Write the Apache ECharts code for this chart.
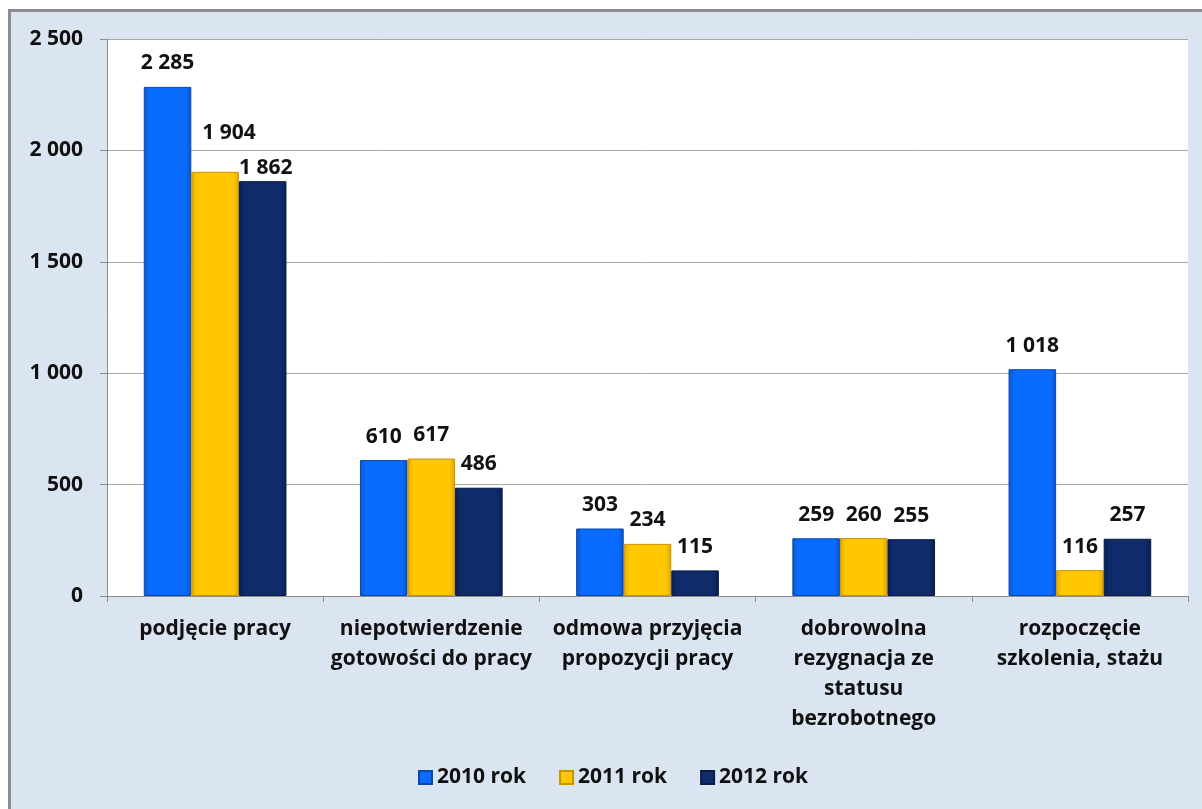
<!DOCTYPE html>
<html>
<head>
<meta charset="utf-8">
<script src="https://cdn.jsdelivr.net/npm/echarts@6/dist/echarts.min.js"></script>
<style>
  html, body { margin: 0; padding: 0; background: #fff; }
  #frame {
    position: absolute; left: 8px; top: 9px; width: 1200px; height: 806px;
    background: #dbe5f1; border-left: 3px solid #8c8c8c; border-top: 3px solid #8c8c8c;
  }
  #chart { position: absolute; left: 0; top: 0; width: 1202px; height: 809px; }
</style>
</head>
<body>
<div id="frame"></div>
<div id="chart"></div>
<script>
// kategorie i wartości
const categories = [
  'podjęcie pracy',
  'niepotwierdzenie\ngotowości do pracy',
  'odmowa przyjęcia\npropozycji pracy',
  'dobrowolna\nrezygnacja ze\nstatusu\nbezrobotnego',
  'rozpoczęcie\nszkolenia, stażu'
];
const seriesNames = ['2010 rok', '2011 rok', '2012 rok'];
const values2010 = [2285, 610, 303, 259, 1018];
const values2011 = [1904, 617, 234, 260, 116];
const values2012 = [1862, 486, 115, 255, 257];
const yTicks = [0, 500, 1000, 1500, 2000, 2500];

const FONT = '"Open Sans", Lato, sans-serif';
const FS = 21;

// separator tysięcy jak w oryginale: "2 285"
function fmt(v) {
  return String(v).replace(/\B(?=(\d{3})+(?!\d))/g, ' ');
}

function bevel(edge, mid) {
  return new echarts.graphic.LinearGradient(0, 0, 1, 0, [
    { offset: 0, color: edge },
    { offset: 0.12, color: mid },
    { offset: 0.88, color: mid },
    { offset: 1, color: edge }
  ]);
}

const palette = [
  { edge: '#0a55c8', mid: '#0a6cff', border: '#0848a8' },
  { edge: '#e0a800', mid: '#ffc800', border: '#c99400' },
  { edge: '#0a1f52', mid: '#0f2b6a', border: '#081a45' }
];
const seriesData = [values2010, values2011, values2012];

// w oryginale dwie etykiety przy "podjęcie pracy" są przesunięte ręcznie
const labelOffsets = { '1-0': [14, -15], '2-0': [3, 10] };

const chart = echarts.init(document.getElementById('chart'));

const option = {
  backgroundColor: 'transparent',
  animation: false,
  textStyle: { fontFamily: FONT },
  grid: {
    left: 107, top: 39, right: 14, bottom: 213,
    show: true, backgroundColor: '#ffffff', borderWidth: 0
  },
  legend: {
    bottom: 16,
    left: 413,
    itemWidth: 13,
    itemHeight: 13,
    itemGap: 33,
    icon: 'rect',
    textStyle: { fontFamily: FONT, fontWeight: 'bold', fontSize: FS, color: '#111' },
    data: seriesNames
  },
  xAxis: {
    type: 'category',
    data: categories,
    axisLine: { lineStyle: { color: '#8c8c8c', width: 1 } },
    axisTick: { show: true, length: 6, lineStyle: { color: '#8c8c8c' } },
    axisLabel: {
      interval: 0,
      margin: 18,
      fontFamily: FONT,
      fontWeight: 'bold',
      fontSize: FS,
      lineHeight: 30,
      color: '#111'
    }
  },
  yAxis: {
    type: 'value',
    min: 0,
    max: 2500,
    interval: 500,
    axisLine: { show: true, lineStyle: { color: '#8c8c8c' } },
    axisTick: { show: true, length: 7, lineStyle: { color: '#8c8c8c' } },
    splitLine: { lineStyle: { color: '#a6a6a6' } },
    axisLabel: {
      margin: 24,
      fontFamily: FONT,
      fontWeight: 'bold',
      fontSize: FS,
      color: '#111',
      formatter: v => yTicks.includes(v) ? fmt(v) : ''
    }
  },
  series: seriesNames.map((name, i) => ({
    name,
    type: 'bar',
    data: seriesData[i].map((v, j) => {
      const off = labelOffsets[i + '-' + j];
      return off ? { value: v, label: { offset: off } } : v;
    }),
    barGap: '0%',
    barCategoryGap: '34%',
    itemStyle: {
      color: bevel(palette[i].edge, palette[i].mid),
      borderColor: palette[i].border,
      borderWidth: 1
    },
    label: {
      show: true,
      position: 'top',
      distance: 13,
      fontFamily: FONT,
      fontWeight: 'bold',
      fontSize: FS,
      color: '#111',
      formatter: p => fmt(p.value)
    }
  }))
};

chart.setOption(option);
</script>
</body>
</html>
